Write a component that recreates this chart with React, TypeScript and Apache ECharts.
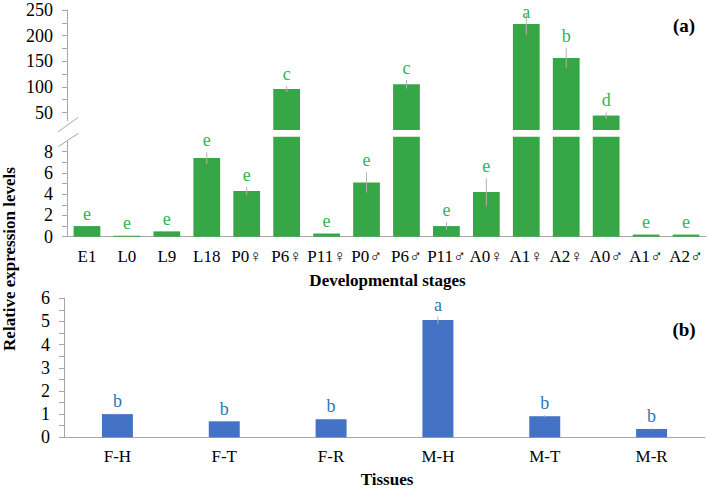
import React, { useEffect, useRef } from 'react';
import * as echarts from 'echarts';

const stages = ['E1', 'L0', 'L9', 'L18', 'P0♀', 'P6♀', 'P11♀', 'P0♂', 'P6♂', 'P11♂', 'A0♀', 'A1♀', 'A2♀', 'A0♂', 'A1♂', 'A2♂'];
const stageValues = [1.0, 0.1, 0.5, 7.4, 4.3, 96, 0.3, 5.1, 105, 1.0, 4.2, 222.7, 156.5, 44.2, 0.2, 0.2];
const stageErrors = [0.05, 0.02, 0.05, 0.55, 0.4, 6, 0.05, 0.95, 8.4, 0.37, 1.3, 20.8, 18.8, 6.5, 0.02, 0.02];
const stageLetters = ['e', 'e', 'e', 'e', 'e', 'c', 'e', 'e', 'c', 'e', 'e', 'a', 'b', 'd', 'e', 'e'];

const tissues = ['F-H', 'F-T', 'F-R', 'M-H', 'M-T', 'M-R'];
const tissueValues = [1.0, 0.69, 0.78, 5.06, 0.91, 0.36];
const tissueErrors = [0.04, 0.03, 0.04, 0.15, 0.04, 0.03];
const tissueLetters = ['b', 'b', 'b', 'a', 'b', 'b'];

const upperLabels = [50, 100, 150, 200, 250];
const upperTicks = [50, 75, 100, 125, 150, 175, 200, 225, 250];
const lowerLabels = [0, 2, 4, 6, 8];
const lowerTicks = [0, 1, 2, 3, 4, 5, 6, 7, 8];
const tissueLabels = [0, 1, 2, 3, 4, 5, 6];
const tissueTicks = [0, 0.5, 1, 1.5, 2, 2.5, 3, 3.5, 4, 4.5, 5, 5.5, 6];

const UPPER_MIN = 16;
const UPPER_MAX = 250;
const LOWER_MAX = 9.4;

const FONT = '"Liberation Serif", "Times New Roman", serif';
const AXIS_COLOR = '#a6a6a6';
const GREEN = '#37a646';
const GREEN_TEXT = '#2fb456';
const BLUE = '#4472c4';
const BLUE_TEXT = '#2e75b6';
const ERR_COLOR = '#b3b3b3';

type Item = { idx: number; v: number; e: number; letter: string };

function errSeries(items: Item[], xi: number, yi: number, color: string) {
  return {
    type: 'custom',
    xAxisIndex: xi,
    yAxisIndex: yi,
    z: 5,
    clip: false,
    encode: { x: 0, y: 1 },
    data: items.map((it) => [it.idx, it.v, it.e]),
    renderItem: (params: any, api: any) => {
      const it = items[params.dataIndex];
      const top = api.coord([it.idx, it.v + it.e]);
      const bot = api.coord([it.idx, Math.max(it.v - it.e, 0)]);
      return {
        type: 'group',
        children: [
          {
            type: 'line',
            shape: { x1: top[0], y1: top[1], x2: bot[0], y2: bot[1] },
            style: { stroke: ERR_COLOR, lineWidth: 1 },
          },
          {
            type: 'text',
            x: top[0],
            y: Math.max(top[1] - 3, 21),
            style: {
              text: it.letter,
              fill: color,
              fontSize: 18,
              fontFamily: FONT,
              align: 'center',
              verticalAlign: 'bottom',
            },
          },
        ],
      };
    },
  };
}

export default function App() {
  const ref = useRef<HTMLDivElement>(null);
  useEffect(() => {
    if (!ref.current) return;
    const chart = echarts.init(ref.current, null, { renderer: 'svg' });

    const stageItems: Item[] = stages.map((_, i) => ({ idx: i, v: stageValues[i], e: stageErrors[i], letter: stageLetters[i] }));
    const upperItems = stageItems.filter((it) => it.v > LOWER_MAX);
    const lowerItems = stageItems.filter((it) => it.v <= LOWER_MAX);
    const tissueItems: Item[] = tissues.map((_, i) => ({ idx: i, v: tissueValues[i], e: tissueErrors[i], letter: tissueLetters[i] }));

    const yLabel = (vals: number[]) => ({
      customValues: vals,
      fontSize: 18,
      color: '#000',
      fontFamily: FONT,
      margin: 14,
    });
    const yTick = (vals: number[]) => ({
      show: true,
      customValues: vals,
      length: 5,
      lineStyle: { color: AXIS_COLOR },
    });
    const yLine = { show: true, lineStyle: { color: AXIS_COLOR, width: 1 } };

    const option: any = {
      animation: false,
      grid: [
        { left: 67, right: 2, top: 10, height: 120 },
        { left: 67, right: 2, top: 136.8, height: 99.9 },
        { left: 64, right: 3, top: 298.3, height: 139 },
      ],
      xAxis: [
        { gridIndex: 0, type: 'category', data: stages, show: false },
        {
          gridIndex: 1,
          type: 'category',
          data: stages,
          axisLine: { lineStyle: { color: AXIS_COLOR } },
          axisTick: { length: 4, lineStyle: { color: AXIS_COLOR } },
          axisLabel: { interval: 0, margin: 11, fontSize: 17, color: '#000', fontFamily: FONT },
        },
        {
          gridIndex: 2,
          type: 'category',
          data: tissues,
          axisLine: { lineStyle: { color: AXIS_COLOR } },
          axisTick: { length: 5, lineStyle: { color: AXIS_COLOR } },
          axisLabel: { interval: 0, margin: 11, fontSize: 17, color: '#000', fontFamily: FONT },
        },
      ],
      yAxis: [
        {
          gridIndex: 0, type: 'value', min: UPPER_MIN, max: UPPER_MAX,
          splitLine: { show: false }, axisLine: yLine, axisTick: yTick(upperTicks), axisLabel: yLabel(upperLabels),
        },
        {
          gridIndex: 1, type: 'value', min: 0, max: LOWER_MAX,
          splitLine: { show: false }, axisLine: yLine, axisTick: yTick(lowerTicks), axisLabel: yLabel(lowerLabels),
        },
        {
          gridIndex: 2, type: 'value', min: 0, max: 6,
          splitLine: { show: false }, axisLine: yLine, axisTick: yTick(tissueTicks), axisLabel: yLabel(tissueLabels),
        },
      ],
      series: [
        {
          type: 'bar', xAxisIndex: 0, yAxisIndex: 0, clip: true,
          barWidth: '67%',
          itemStyle: { color: GREEN },
          data: stageValues.map((v) => (v > LOWER_MAX ? v : '-')),
        },
        {
          type: 'bar', xAxisIndex: 1, yAxisIndex: 1, clip: true,
          barWidth: '67%',
          itemStyle: { color: GREEN },
          data: stageValues.map((v) => v),
        },
        {
          type: 'bar', xAxisIndex: 2, yAxisIndex: 2,
          barWidth: '29%',
          itemStyle: { color: BLUE },
          data: tissueValues,
        },
        errSeries(upperItems, 0, 0, GREEN_TEXT),
        errSeries(lowerItems, 1, 1, GREEN_TEXT),
        errSeries(tissueItems, 2, 2, BLUE_TEXT),
      ],
      graphic: [
        { type: 'rect', z: 50, shape: { x: 63, y: 121, width: 8, height: 20 }, style: { fill: '#fff' } },
        { type: 'line', z: 51, shape: { x1: 58.3, y1: 131.7, x2: 78.3, y2: 117.3 }, style: { stroke: AXIS_COLOR, lineWidth: 1 } },
        { type: 'line', z: 51, shape: { x1: 58.3, y1: 146.7, x2: 78.3, y2: 133.3 }, style: { stroke: AXIS_COLOR, lineWidth: 1 } },
        {
          type: 'text', z: 51, x: 9.5, y: 259, rotation: Math.PI / 2,
          style: { text: 'Relative expression levels', fontSize: 17, fontWeight: 'bold', fontFamily: FONT, fill: '#000', align: 'center', verticalAlign: 'middle' },
        },
        {
          type: 'text', z: 51, x: 387.5, y: 280.5,
          style: { text: 'Developmental stages', fontSize: 17, fontWeight: 'bold', fontFamily: FONT, fill: '#000', align: 'center', verticalAlign: 'middle' },
        },
        {
          type: 'text', z: 51, x: 387, y: 479.5,
          style: { text: 'Tissues', fontSize: 17, fontWeight: 'bold', fontFamily: FONT, fill: '#000', align: 'center', verticalAlign: 'middle' },
        },
        {
          type: 'text', z: 51, x: 684, y: 25.5,
          style: { text: '(a)', fontSize: 19, fontWeight: 'bold', fontFamily: FONT, fill: '#000', align: 'center', verticalAlign: 'middle' },
        },
        {
          type: 'text', z: 51, x: 684, y: 329,
          style: { text: '(b)', fontSize: 19, fontWeight: 'bold', fontFamily: FONT, fill: '#000', align: 'center', verticalAlign: 'middle' },
        },
      ],
    };
    chart.setOption(option);
    return () => chart.dispose();
  }, []);
  return <div ref={ref} style={{ position: 'absolute', left: 0, top: 0, width: 708, height: 489 }} />;
}
